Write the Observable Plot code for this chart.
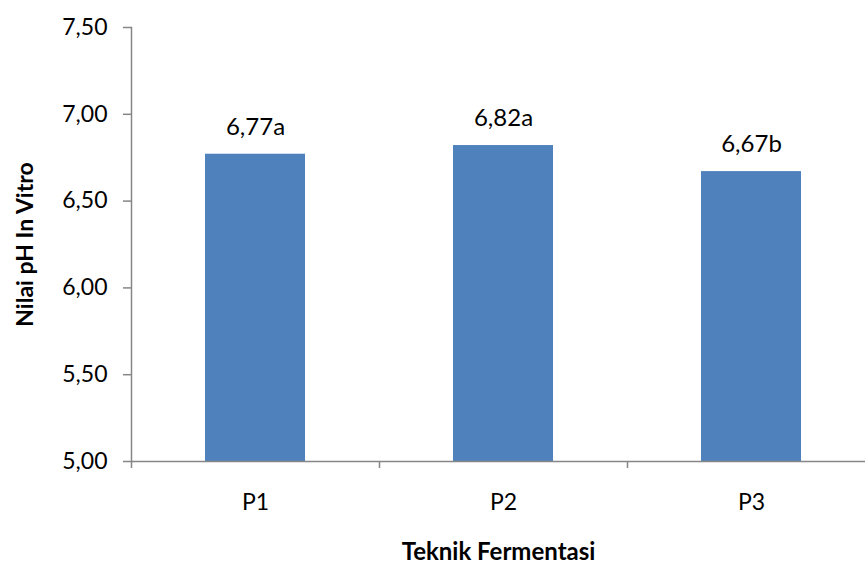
<!DOCTYPE html>
<html>
<head>
<meta charset="utf-8">
<script src="https://cdn.jsdelivr.net/npm/d3@7"></script>
<script src="https://cdn.jsdelivr.net/npm/@observablehq/plot@0.6"></script>
<style>
  html, body { margin: 0; padding: 0; background: #fff; overflow: hidden; }
</style>
</head>
<body>
<div id="chart"></div>
<script>
const categories = ["P1", "P2", "P3"];
const values = [6.77, 6.82, 6.67];
const notations = ["a", "a", "b"];
const yTicks = [5.0, 5.5, 6.0, 6.5, 7.0, 7.5];

const data = categories.map((c, i) => ({cat: c, value: values[i], label: values[i].toFixed(2).replace(".", ",") + notations[i]}));

const fmt = d => d.toFixed(2).replace(".", ",");
const font = "Lato, 'Open Sans', sans-serif";
const axisColor = "#868686";
const fs = 23;

const chart = Plot.plot({
  width: 865,
  height: 565,
  marginLeft: 131,
  marginTop: 27,
  marginBottom: 104,
  marginRight: 0,
  style: {fontFamily: font, fontSize: fs + "px", color: "#000", background: "#fff"},
  x: {domain: categories, range: [131, 875], paddingInner: 0.597, paddingOuter: 0.2985},
  y: {domain: [5, 7.5], range: [461, 27]},
  marks: [
    Plot.barY(data, {x: "cat", y1: 5, y2: "value", fill: "#4F81BD"}),
    Plot.ruleY([5], {stroke: axisColor, strokeWidth: 1.5}),
    Plot.ruleX(categories, {x: d => d, dx: -124, y1: 5, y2: 4.96, stroke: axisColor, strokeWidth: 1.5, clip: false}),
    Plot.axisY({
      ticks: yTicks, tickFormat: fmt, tickSize: 8, tickPadding: 16, stroke: axisColor, strokeWidth: 1.5,
      fontSize: fs, fill: "#000",
      label: null
    }),
    Plot.frame({anchor: "left", stroke: axisColor, strokeWidth: 1.5}),
    Plot.axisX({tickSize: 0, tickPadding: 32, fontSize: fs, fill: "#000", label: null}),
    Plot.text(data, {x: "cat", y: "value", text: "label", dy: -27, fontSize: 24, fill: "#000"}),
    Plot.text(["Teknik Fermentasi"], {frameAnchor: "bottom", dy: 98, fontSize: 24, fontWeight: "bold", fill: "#000"}),
    Plot.text(["Nilai pH In Vitro"], {frameAnchor: "left", textAnchor: "middle", dx: -106, rotate: -90, fontSize: 23, fontWeight: "bold", fill: "#000"})
  ]
});
document.getElementById("chart").appendChild(chart);
</script>
</body>
</html>
